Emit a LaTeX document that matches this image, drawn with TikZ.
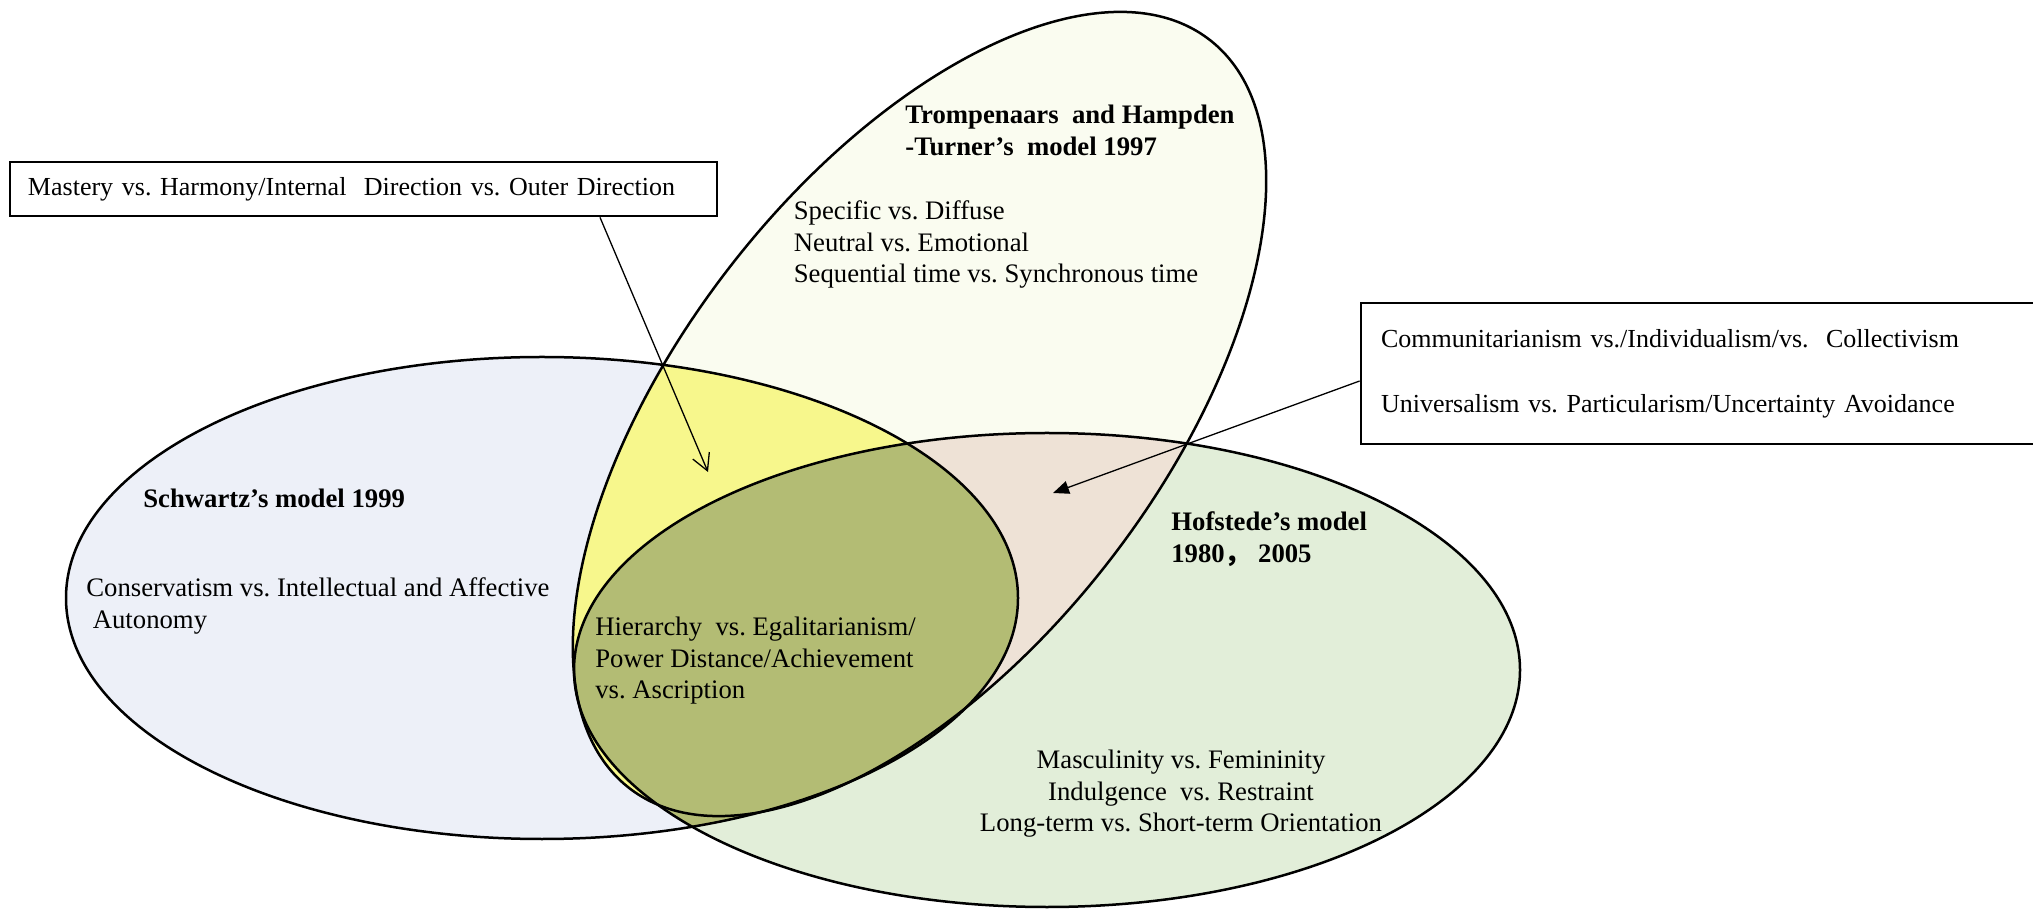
\documentclass[tikz,border=0pt]{standalone}
\usepackage{fontspec}
\setmainfont{Liberation Serif}
\newfontfamily\cjk{Noto Sans CJK SC}
\usetikzlibrary{arrows.meta}
\frenchspacing

\definecolor{schwartzblue}{RGB}{237,240,248}
\definecolor{trompcream}{RGB}{250,252,240}
\definecolor{hofgreen}{RGB}{226,238,217}
\definecolor{stoverlap}{RGB}{247,247,140}
\definecolor{thoverlap}{RGB}{238,226,214}
\definecolor{shoverlap}{RGB}{179,188,116}

\begin{document}
\begin{tikzpicture}[x=0.2mm, y=0.2mm,
  every node/.style={font=\fontsize{15.2}{18}\selectfont, inner sep=0pt},
  ring/.style={line width=0.5mm},
  modeltitle/.style={anchor=north west, align=left, font=\fontsize{15.2}{18}\selectfont\bfseries},
  dimlist/.style={anchor=north west, align=left},
  notebox/.style={draw, line width=0.55mm, align=left, font=\fontsize{14.8}{18}\selectfont},
  pointer/.style={line width=0.26mm}]
  \useasboundingbox (0,0) rectangle (2033,913);
  \clip (0,0) rectangle (2033,913);

  % the three models
  \coordinate (schwartz) at (542,315);
  \coordinate (tromp) at (919.5,499);
  \coordinate (hofstede) at (1047,243);
  \fill[schwartzblue] (schwartz) ellipse [x radius=476, y radius=241];
  \fill[hofgreen] (hofstede) ellipse [x radius=473, y radius=237];
  \fill[trompcream, shift={(tromp)}, rotate=52.2] (0,0) ellipse [x radius=473.5, y radius=240];

  % overlaps
  \begin{scope}
    \clip[shift={(tromp)}, rotate=52.2] (0,0) ellipse [x radius=473.5, y radius=240];
    \fill[stoverlap] (schwartz) ellipse [x radius=476, y radius=241];
    \fill[thoverlap] (hofstede) ellipse [x radius=473, y radius=237];
  \end{scope}
  \begin{scope}
    \clip (schwartz) ellipse [x radius=476, y radius=241];
    \fill[shoverlap] (hofstede) ellipse [x radius=473, y radius=237];
  \end{scope}
  \draw[ring, shift={(tromp)}, rotate=52.2] (0,0) ellipse [x radius=473.5, y radius=240];
  \draw[ring] (schwartz) ellipse [x radius=476, y radius=241];
  \draw[ring] (hofstede) ellipse [x radius=473, y radius=237];

  % texts
  \node[modeltitle] (trompTitle) at (905,808.5) {Trompenaars\ \ and Hampden\\-Turner’s\ \ model 1997};
  \node[dimlist] (trompDims) at (793.5,712.5) {Specific vs. Diffuse\\Neutral vs. Emotional\\Sequential time vs. Synchronous time};
  \node[modeltitle] (schwartzTitle) at (143,424.5) {Schwartz’s model 1999};
  \node[dimlist] (schwartzDims) at (86,335.5) {Conservatism vs. Intellectual and Affective\\\hspace*{1.3mm}Autonomy};
  \node[dimlist] (sharedDims) at (595,296.5) {Hierarchy\ \ vs. Egalitarianism/\\Power Distance/Achievement\\vs. Ascription};
  \node[modeltitle] (hofTitle) at (1171,401.5) {Hofstede’s model\\1980{\cjk ，}\ 2005};
  \node[anchor=north, align=center] (hofDims) at (1181,163.5) {Masculinity vs. Femininity\\Indulgence\ \ vs. Restraint\\Long-term vs. Short-term Orientation};

  % boxes and pointers
  \node[notebox, minimum width=141.4mm, minimum height=10.8mm, inner xsep=3.6mm, text width=134.2mm] (masteryBox) at (363.5,724) {Mastery vs. Harmony/Internal\ \ Direction vs. Outer Direction};
  \node[notebox, minimum width=135.8mm, minimum height=28.2mm, inner xsep=4mm, text width=127.8mm] (communBox) at (1700.5,539.5) {Communitarianism vs./Individualism/vs.\ \ Collectivism\\[6.6mm]Universalism vs. Particularism/Uncertainty Avoidance};
  \coordinate (stTip) at (708,441);
  \coordinate (thTip) at (1053,420);
  \draw[pointer, -{Straight Barb[length=3.3mm, width=3.6mm]}] ([xshift=47.3mm]masteryBox.south) -- (stTip);
  \draw[pointer, -{Triangle[length=3.2mm, width=2.6mm]}] ([yshift=-1.5mm]communBox.west) -- (thTip);
\end{tikzpicture}
\end{document}
